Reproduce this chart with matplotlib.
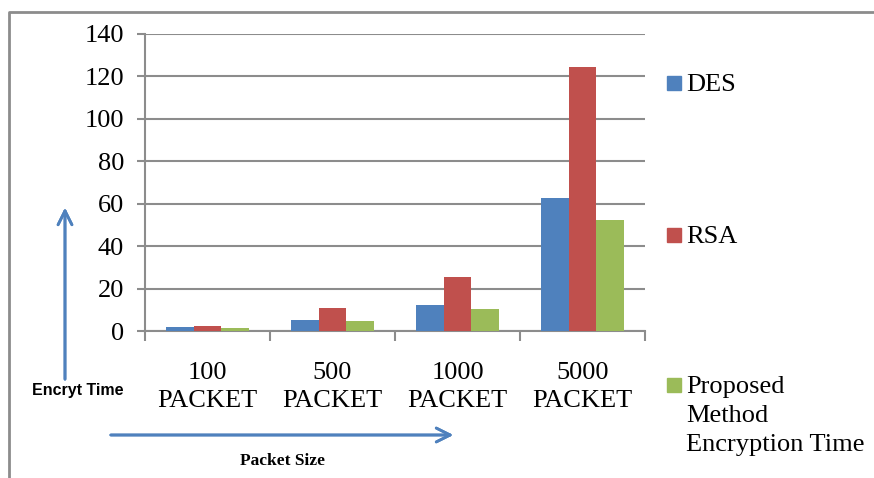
import numpy as np
import matplotlib.pyplot as plt
from matplotlib.patches import Rectangle
from matplotlib.lines import Line2D

# Datos
categorias = ['100\nPACKET', '500\nPACKET', '1000\nPACKET', '5000\nPACKET']
des = [1.7, 5.3, 12.3, 62.5]
rsa = [2.2, 10.8, 25.5, 124.5]
propuesto = [1.4, 4.9, 10.2, 52.2]
series = ['DES', 'RSA', 'Proposed\nMethod\nEncryption Time']
colores = ['#4F81BD', '#C0504D', '#9BBB59']

plt.rcParams['font.family'] = ['Liberation Serif', 'DejaVu Serif']

fig = plt.figure(figsize=(8.74, 4.78), dpi=100)
ax = fig.add_axes([145 / 874, 1 - 331 / 478, 500 / 874, 297 / 478])

x = np.arange(len(categorias))
w = 0.223
for i, (vals, c) in enumerate(zip([des, rsa, propuesto], colores)):
    ax.bar(x + (i - 1) * w, vals, w, color=c, zorder=3)

ax.set_xlim(-0.5, len(categorias) - 0.5)
ax.set_ylim(0, 140)
ax.set_yticks(np.arange(0, 141, 20))
ax.yaxis.grid(True, color='#8c8c8c', linewidth=1.5, zorder=0)

ax.set_xticks(x)
ax.set_xticklabels(categorias, fontsize=19, linespacing=1.4)
ax.set_xticks(np.arange(-0.5, len(categorias)), minor=True)
ax.tick_params(axis='x', which='major', length=0, pad=22)
ax.tick_params(axis='x', which='minor', length=7, width=1.5, color='#8c8c8c')
ax.tick_params(axis='y', labelsize=19, length=6, width=1.5, color='#8c8c8c', pad=9)

for s in ['top', 'right']:
    ax.spines[s].set_visible(False)
for s in ['left', 'bottom']:
    ax.spines[s].set_color('#8c8c8c')
    ax.spines[s].set_linewidth(1.5)

# Leyenda manual
pos_y = [83, 235, 385]
for lab, c, py in zip(series, colores, pos_y):
    fig.add_artist(Rectangle((667 / 874, 1 - (py + 7) / 478), 14 / 874, 14 / 478,
                             transform=fig.transFigure, color=c))
    fig.text(686 / 874, 1 - (py - 9) / 478, lab, fontsize=19, va='top', ha='left',
             linespacing=1.4)

# Flechas
fig.add_artist(plt.annotate('', xy=(65 / 874, 1 - 205 / 478), xytext=(65 / 874, 1 - 382 / 478),
                            xycoords='figure fraction', textcoords='figure fraction',
                            arrowprops=dict(arrowstyle='->', color='#4F81BD', lw=2,
                                            mutation_scale=25)))
fig.add_artist(plt.annotate('', xy=(456 / 874, 1 - 435 / 478), xytext=(108 / 874, 1 - 435 / 478),
                            xycoords='figure fraction', textcoords='figure fraction',
                            arrowprops=dict(arrowstyle='->', color='#4F81BD', lw=2,
                                            mutation_scale=25)))

fig.text(78 / 874, 1 - 391 / 478, 'Encryt Time', fontsize=11.5, fontweight='bold',
         family=['Liberation Sans Narrow', 'Liberation Sans', 'DejaVu Sans'],
         ha='center', va='center')
fig.text(283 / 874, 1 - 461 / 478, 'Packet Size', fontsize=12.5, fontweight='bold',
         ha='center', va='center')

# Borde exterior
fig.add_artist(Line2D([9 / 874, 9 / 874, 1], [0, 1 - 12 / 478, 1 - 12 / 478],
                      transform=fig.transFigure, color='#8c8c8c', lw=2))

fig.savefig('out.png', dpi=100)
